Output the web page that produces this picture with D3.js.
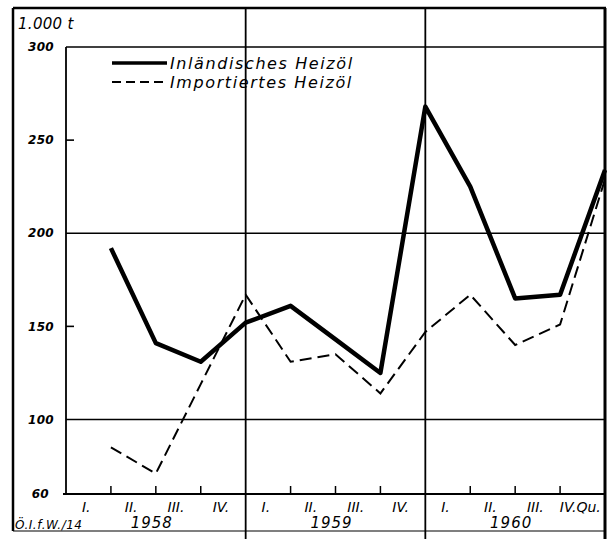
<!DOCTYPE html>
<html><head><meta charset="utf-8">
<script src="https://cdn.jsdelivr.net/npm/d3@7"></script>
<style>body{margin:0;background:#fff}svg{display:block}</style>
</head><body>
<svg id="c" width="613" height="539"></svg>
<script>
const quarters = ["I.","II.","III.","IV.","I.","II.","III.","IV.","I.","II.","III.","IV.Qu."];
const years = ["1958","1959","1960"];
const inlandisch = [192,141,131,152,161,143,125,268,225,165,167,234];
const importiert = [85,71,119,167,131,135,114,147,167,140,151,229];
const yTicks = [60,100,150,200,250,300];
const gridValues = [100,200,300];
const minorTicks = [150,250];
const seriesNames = ["Inländisches Heizöl","Importiertes Heizöl"];
const unitLabel = "1.000 t";
const sourceLabel = "Ö.I.f.W./14";

const svg = d3.select("#c");
const L = 66, R = 605, T = 47, B = 494;
const frame = {left:13, top:8, right:606, bottom:531};
const x = d3.scaleLinear().domain([0, 12]).range([L, R]);
const y = d3.scaleLinear().domain([60, 300]).range([B, T]);
const font = "'DejaVu Sans', sans-serif";

// outer frame
svg.append("line").attr("x1",frame.left).attr("x2",frame.left).attr("y1",frame.top).attr("y2",frame.bottom).attr("stroke","#000").attr("stroke-width",2.5);
svg.append("line").attr("x1",frame.left).attr("x2",frame.right).attr("y1",frame.top).attr("y2",frame.top).attr("stroke","#000").attr("stroke-width",2.5);
svg.append("line").attr("x1",R).attr("x2",R).attr("y1",frame.top).attr("y2",539).attr("stroke","#000").attr("stroke-width",3);
svg.append("line").attr("x1",frame.left).attr("x2",R).attr("y1",frame.bottom).attr("y2",frame.bottom).attr("stroke","#000").attr("stroke-width",1.2);

// plot left line
svg.append("line").attr("x1",L).attr("x2",L).attr("y1",T).attr("y2",B).attr("stroke","#000").attr("stroke-width",1.8);
// x axis line
svg.append("line").attr("x1",L-3).attr("x2",R).attr("y1",B).attr("y2",B).attr("stroke","#000").attr("stroke-width",1.8);

// horizontal grid
svg.selectAll(".hg").data(gridValues).join("line")
  .attr("x1",L).attr("x2",R).attr("y1",d=>y(d)).attr("y2",d=>y(d))
  .attr("stroke","#000").attr("stroke-width",1.6);
// minor y ticks
svg.selectAll(".mt").data(minorTicks).join("line")
  .attr("x1",L).attr("x2",L+8).attr("y1",d=>y(d)).attr("y2",d=>y(d))
  .attr("stroke","#000").attr("stroke-width",1.6);
// year separators
svg.selectAll(".ys").data([4,8]).join("line")
  .attr("x1",d=>x(d)).attr("x2",d=>x(d)).attr("y1",frame.top).attr("y2",539)
  .attr("stroke","#000").attr("stroke-width",1.8);
// quarter ticks
svg.selectAll(".qt").data([1,2,3,5,6,7,9,10,11]).join("line")
  .attr("x1",d=>x(d)).attr("x2",d=>x(d)).attr("y1",B).attr("y2",B-8)
  .attr("stroke","#000").attr("stroke-width",1.5);

// y labels
svg.selectAll(".yl").data(yTicks).join("text")
  .attr("x",d=>d===60?49:54).attr("y",d=>y(d)).attr("dy","0.35em")
  .attr("text-anchor","end").attr("font-family",font).attr("font-style","italic").attr("font-weight","bold")
  .attr("font-size",12).attr("letter-spacing",0.3).text(d=>d);
svg.append("text").attr("x",18).attr("y",29).attr("font-family",font).attr("font-style","italic")
  .attr("font-size",15).attr("letter-spacing",0.3).text(unitLabel);

// x labels
svg.selectAll(".ql").data(quarters).join("text")
  .attr("x",(d,i)=>x(i+0.45)).attr("y",512)
  .attr("text-anchor","middle").attr("font-family",font).attr("font-style","italic")
  .attr("font-size",14).text(d=>d);
svg.selectAll(".yr").data(years).join("text")
  .attr("x",(d,i)=>x(4*i+2)-4).attr("y",528)
  .attr("text-anchor","middle").attr("font-family",font).attr("font-style","italic")
  .attr("font-size",15).attr("letter-spacing",1).text(d=>d);
svg.append("text").attr("x",15).attr("y",529).attr("font-family",font).attr("font-style","italic")
  .attr("font-size",12).attr("letter-spacing",0.5).text(sourceLabel);

// lines
const line = d3.line().x((d,i)=>x(i+1)).y(d=>y(d));
svg.append("path").datum(importiert).attr("d",line).attr("fill","none")
  .attr("stroke","#000").attr("stroke-width",2).attr("stroke-dasharray","12,6");
svg.append("path").datum(inlandisch).attr("d",line).attr("fill","none")
  .attr("stroke","#000").attr("stroke-width",4.5).attr("stroke-linejoin","round");

// legend
const lg = svg.append("g");
[0,1].forEach(k=>{
  const ly = 63 + k*19;
  lg.append("line").attr("x1",112).attr("x2",167).attr("y1",ly).attr("y2",ly)
    .attr("stroke","#000").attr("stroke-width",k===0?3.5:1.8)
    .attr("stroke-dasharray",k===0?null:"9,5");
  lg.append("text").attr("x",170).attr("y",ly).attr("dy","0.35em")
    .attr("font-family",font).attr("font-style","italic").attr("font-size",16)
    .attr("letter-spacing",1.6).text(seriesNames[k]);
});
</script>
</body></html>
